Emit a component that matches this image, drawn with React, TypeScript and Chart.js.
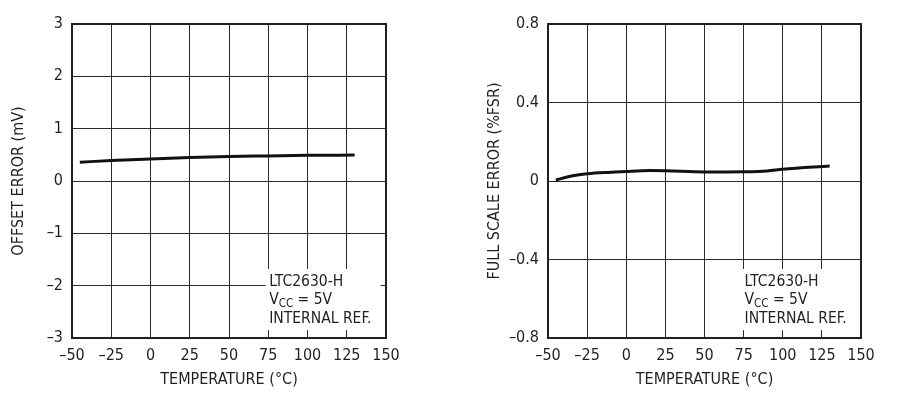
import React, { useEffect, useRef } from "react";
import { Chart, registerables } from "chart.js";
Chart.register(...registerables);

const FONT = '"Liberation Sans Narrow", "DejaVu Sans Condensed", "Arial Narrow", sans-serif';
const INK = "#231f20";

const xTicks = [-50, -25, 0, 25, 50, 75, 100, 125, 150];

const offsetTemps = [-45, -25, 0, 25, 50, 75, 100, 130];
const offsetValues = [0.36, 0.39, 0.42, 0.45, 0.47, 0.48, 0.49, 0.495];
const offsetYTicks = [-3, -2, -1, 0, 1, 2, 3];

const fsTemps = [-45, -35, -25, -10, 0, 15, 25, 50, 75, 90, 100, 130];
const fsValues = [0.005, 0.025, 0.037, 0.045, 0.049, 0.053, 0.052, 0.046, 0.047, 0.051, 0.06, 0.076];
const fsYTicks = [-0.8, -0.4, 0, 0.4, 0.8];

const noteLines = ["LTC2630-H", "VCC = 5V", "INTERNAL REF."];

const fmt = (v: number) => String(v).replace("-", "\u2013");

const notePlugin = {
  id: "note",
  afterDatasetsDraw(chart: any) {
    const { ctx, chartArea: a } = chart;
    const w = a.right - a.left;
    const h = a.bottom - a.top;
    const bx = a.left + w * 0.617;
    const by = a.top + h * 0.78;
    const bw = w * 0.366;
    const bh = h * 0.195;
    ctx.save();
    ctx.fillStyle = "#fff";
    ctx.fillRect(bx, by, bw, bh);
    ctx.fillStyle = INK;
    ctx.textBaseline = "alphabetic";
    ctx.textAlign = "left";
    const tx = a.left + w * 0.628;
    const fs = 15.5;
    ctx.font = `${fs}px ${FONT}`;
    const base0 = a.top + h * 0.834;
    const lh = 18.5;
    ctx.fillText(noteLines[0], tx, base0);
    const l2 = base0 + lh;
    ctx.fillText("V", tx, l2);
    let x = tx + ctx.measureText("V").width;
    ctx.font = `${11.5}px ${FONT}`;
    ctx.fillText("CC", x, l2 + 3);
    x += ctx.measureText("CC").width;
    ctx.font = `${fs}px ${FONT}`;
    ctx.fillText(" = 5V", x, l2);
    ctx.fillText(noteLines[2], tx, base0 + 2 * lh);
    ctx.restore();
  },
};

function Panel(props: {
  temps: number[];
  values: number[];
  yTicks: number[];
  yTitle: string;
  yWidth: number;
  yTitlePad: number;
  rightPad: number;
  left: number;
}) {
  const ref = useRef<HTMLCanvasElement>(null);
  useEffect(() => {
    const { temps, values, yTicks, yTitle, yWidth, rightPad, yTitlePad } = props;
    const chart = new Chart(ref.current!, {
      type: "line",
      data: {
        datasets: [
          {
            data: temps.map((t, i) => ({ x: t, y: values[i] })),
            borderColor: "#111",
            borderWidth: 3,
            pointRadius: 0,
            cubicInterpolationMode: "monotone",
            borderCapStyle: "butt",
          },
        ],
      },
      options: {
        animation: false,
        responsive: false,
        maintainAspectRatio: false,
        layout: { padding: { top: 24, right: rightPad, left: 0, bottom: 0 } },
        plugins: { legend: { display: false }, tooltip: { enabled: false } },
        scales: {
          x: {
            type: "linear",
            min: xTicks[0],
            max: xTicks[xTicks.length - 1],
            afterBuildTicks: (s: any) => {
              s.ticks = xTicks.map((v) => ({ value: v }));
            },
            afterFit: (s: any) => {
              s.height = 57;
            },
            grid: { color: "#2a2a2a", lineWidth: 1, drawTicks: false },
            border: { color: INK, width: 2 },
            ticks: {
              padding: 8,
              color: INK,
              font: { family: FONT, size: 16 },
              callback: (v: any) => fmt(v),
            },
            title: {
              display: true,
              text: "TEMPERATURE (\u00b0C)",
              color: INK,
              font: { family: FONT, size: 16 },
              padding: { top: 3, bottom: 6 },
            },
          },
          y: {
            type: "linear",
            min: yTicks[0],
            max: yTicks[yTicks.length - 1],
            afterBuildTicks: (s: any) => {
              s.ticks = yTicks.map((v) => ({ value: v }));
            },
            afterFit: (s: any) => {
              s.width = yWidth;
            },
            grid: { color: "#2a2a2a", lineWidth: 1, drawTicks: false },
            border: { color: INK, width: 2 },
            ticks: {
              padding: 9,
              color: INK,
              font: { family: FONT, size: 16 },
              callback: (v: any) => fmt(v),
            },
            title: {
              display: true,
              text: yTitle,
              color: INK,
              font: { family: FONT, size: 16 },
              padding: { top: yTitlePad, bottom: 0 },
            },
          },
        },
      },
      plugins: [
        {
          id: "frame",
          afterDraw(c: any) {
            const { ctx, chartArea: a } = c;
            ctx.save();
            ctx.strokeStyle = INK;
            ctx.lineWidth = 2;
            ctx.strokeRect(a.left, a.top, a.right - a.left, a.bottom - a.top);
            ctx.restore();
          },
        },
        notePlugin,
      ],
    } as any);
    return () => chart.destroy();
  }, []);
  return (
    <canvas
      ref={ref}
      width={450}
      height={395}
      style={{ position: "absolute", left: props.left, top: 0, width: 450, height: 395 }}
    />
  );
}

export default function App() {
  return (
    <div style={{ position: "absolute", left: 0, top: 0, width: 900, height: 395, background: "#fff" }}>
      <Panel
        temps={offsetTemps}
        values={offsetValues}
        yTicks={offsetYTicks}
        yTitle="OFFSET ERROR (mV)"
        yWidth={72}
        yTitlePad={9}
        rightPad={64}
        left={0}
      />
      <Panel
        temps={fsTemps}
        values={fsValues}
        yTicks={fsYTicks}
        yTitle="FULL SCALE ERROR (%FSR)"
        yWidth={98}
        yTitlePad={35}
        rightPad={39}
        left={450}
      />
    </div>
  );
}
